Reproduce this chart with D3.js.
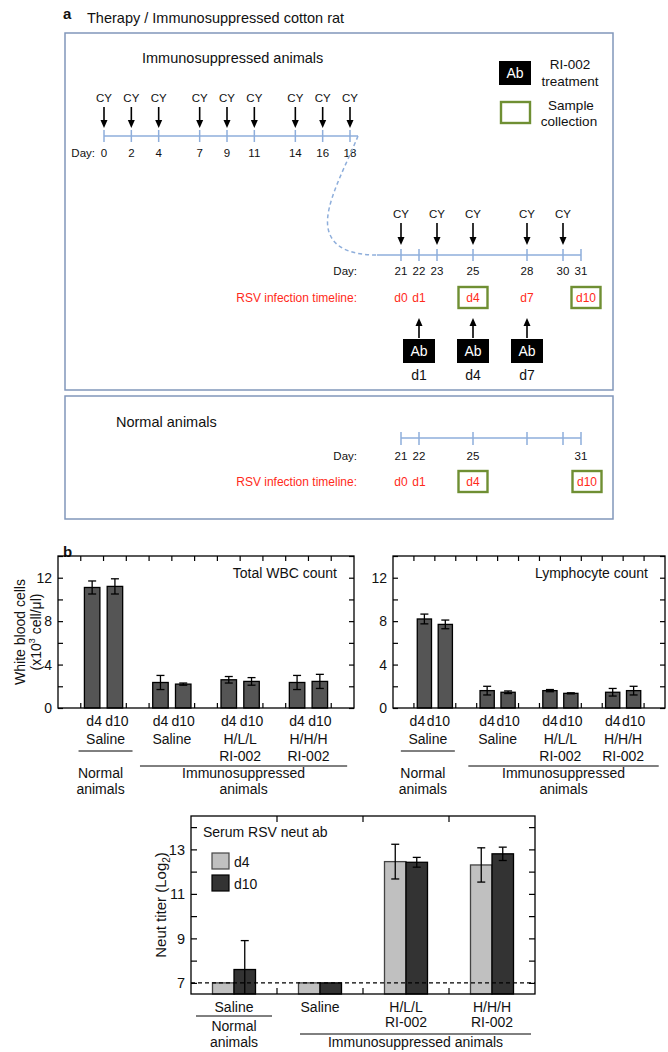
<!DOCTYPE html>
<html><head><meta charset="utf-8">
<script src="https://cdn.jsdelivr.net/npm/d3@7"></script>
<style>body{margin:0;background:#fff} svg{display:block} text{font-family:"Liberation Sans",Arial,sans-serif;fill:#111}</style>
</head><body><svg id="c" width="668" height="1052"></svg>
<script>
// ---------- data ----------
const cyDaysPre = [0, 2, 4, 7, 9, 11, 14, 16, 18];
const cyDaysPost = [21, 23, 25, 28, 30];
const postTickDays = [21, 22, 23, 25, 28, 30, 31];
const rsvDays = [21, 22, 25, 28, 31];
const rsvLabels = ["d0", "d1", "d4", "d7", "d10"];
const sampleDays = [25, 31];
const abDays = [22, 25, 28];
const abLabels = ["d1", "d4", "d7"];
const normalTickDays = [21, 22, 25, 28, 30, 31];
const normalDayLabels = [21, 22, 25, 31];
const normalRsvDays = [21, 22, 25, 31];
const normalRsvLabels = ["d0", "d1", "d4", "d10"];

const groups = ["Normal Saline", "Immuno Saline", "H/L/L RI-002", "H/H/H RI-002"];
const groupLines = [["Saline"], ["Saline"], ["H/L/L", "RI-002"], ["H/H/H", "RI-002"]];
const days = ["d4", "d10"];
const countTicks = [0, 2, 4, 6, 8, 10, 12, 14];
const countLabels = [0, 4, 8, 12];
const wbcMean = [[11.1, 11.2], [2.35, 2.2], [2.6, 2.45], [2.35, 2.45]];
const wbcErr = [[0.6, 0.7], [0.65, 0.1], [0.3, 0.35], [0.65, 0.65]];
const lymMean = [[8.2, 7.7], [1.6, 1.45], [1.6, 1.35], [1.45, 1.6]];
const lymErr = [[0.45, 0.4], [0.4, 0.12], [0.1, 0.05], [0.35, 0.4]];
const neutTicks = [7, 8, 9, 10, 11, 12, 13, 14];
const neutLabels = [7, 9, 11, 13];
const neutMean = [[7.0, 7.6], [7.0, 7.0], [12.45, 12.42], [12.3, 12.8]];
const neutErr = [[0, 1.3], [0, 0], [0.78, 0.22], [0.77, 0.3]];
const neutLimit = 7;

// ---------- helpers ----------
const svg = d3.select("#c");
svg.append("rect").attr("width", 668).attr("height", 1052).attr("fill", "#fff");
const BOX = "#8197ba", TL = "#8eaedb", GREEN = "#6f8f33", RED = "#ff2a1a";

function txt(x, y, s, size, anchor, opts = {}) {
  const t = svg.append("text").attr("x", x).attr("y", y).text(s)
    .style("font-size", size + "px").attr("text-anchor", anchor || "start");
  if (opts.bold) t.style("font-weight", "bold");
  if (opts.fill) t.style("fill", opts.fill);
  return t;
}
function arrowDown(x, y0, y1) {
  svg.append("line").attr("x1", x).attr("x2", x).attr("y1", y0).attr("y2", y1 - 6)
    .attr("stroke", "#000").attr("stroke-width", 1.6);
  svg.append("path").attr("d", `M${x - 3.5},${y1 - 8}L${x + 3.5},${y1 - 8}L${x},${y1}Z`).attr("fill", "#000");
}
function arrowUp(x, y0, y1) { // y0 bottom, y1 tip
  svg.append("line").attr("x1", x).attr("x2", x).attr("y1", y0).attr("y2", y1 + 6)
    .attr("stroke", "#000").attr("stroke-width", 1.6);
  svg.append("path").attr("d", `M${x - 3.5},${y1 + 8}L${x + 3.5},${y1 + 8}L${x},${y1}Z`).attr("fill", "#000");
}
function abBox(cx, cy) {
  svg.append("rect").attr("x", cx - 16).attr("y", cy - 12).attr("width", 32).attr("height", 24).attr("fill", "#000");
  txt(cx, cy + 5, "Ab", 14, "middle", { fill: "#fff" });
}
function sampleBox(cx, baseline) {
  svg.append("rect").attr("x", cx - 14.5).attr("y", baseline - 15).attr("width", 29).attr("height", 21)
    .attr("fill", "none").attr("stroke", GREEN).attr("stroke-width", 2.4);
}

// ---------- panel a ----------
txt(63, 19, "a", 15, "start", { bold: true });
txt(87, 23, "Therapy / Immunosuppressed cotton rat", 14.5);
svg.append("rect").attr("x", 65).attr("y", 33).attr("width", 548).attr("height", 357)
  .attr("fill", "none").attr("stroke", BOX).attr("stroke-width", 1.5);
svg.append("rect").attr("x", 65).attr("y", 396).attr("width", 548).attr("height", 123)
  .attr("fill", "none").attr("stroke", BOX).attr("stroke-width", 1.5);
txt(142, 63, "Immunosuppressed animals", 14.5);

// legend
abBox(515, 73);
txt(570, 69, "RI-002", 13.5, "middle");
txt(570, 86, "treatment", 13.5, "middle");
svg.append("rect").attr("x", 501).attr("y", 102).attr("width", 29).attr("height", 21)
  .attr("fill", "none").attr("stroke", GREEN).attr("stroke-width", 2.4);
txt(571, 110, "Sample", 13.5, "middle");
txt(569, 126, "collection", 13.5, "middle");

// pre-infection timeline
const xPre = d3.scaleLinear().domain([0, 18]).range([104, 350]);
const yPre = 136;
svg.append("line").attr("x1", xPre(0)).attr("x2", xPre(18) + 8).attr("y1", yPre).attr("y2", yPre)
  .attr("stroke", TL).attr("stroke-width", 1.5);
cyDaysPre.forEach(d => {
  svg.append("line").attr("x1", xPre(d)).attr("x2", xPre(d)).attr("y1", yPre - 6).attr("y2", yPre + 6)
    .attr("stroke", TL).attr("stroke-width", 1.5);
  txt(xPre(d), 157, d, 11.5, "middle");
  txt(xPre(d), 102, "CY", 11.5, "middle");
  arrowDown(xPre(d), 107, 128);
});
txt(95, 157, "Day:", 11.5, "end");

// dashed connector
const xPost = d3.scaleLinear().domain([21, 31]).range([401, 581]);
const yPost = 255;
const conn = d3.path();
conn.moveTo(xPre(18) + 8, yPre);
conn.bezierCurveTo(345, 168, 324, 205, 328, 228);
conn.bezierCurveTo(332, 250, 355, yPost, 377, yPost);
svg.append("path").attr("d", conn.toString()).attr("fill", "none").attr("stroke", TL)
  .attr("stroke-width", 1.5).attr("stroke-dasharray", "4,3");

// post timeline
svg.append("line").attr("x1", 377).attr("x2", xPost(31)).attr("y1", yPost).attr("y2", yPost)
  .attr("stroke", TL).attr("stroke-width", 1.5);
postTickDays.forEach(d => {
  svg.append("line").attr("x1", xPost(d)).attr("x2", xPost(d)).attr("y1", yPost - 6).attr("y2", yPost + 6)
    .attr("stroke", TL).attr("stroke-width", 1.5);
  txt(xPost(d), 275, d, 11.5, "middle");
});
txt(357, 275, "Day:", 11.5, "end");
cyDaysPost.forEach(d => {
  txt(xPost(d), 218, "CY", 11.5, "middle");
  arrowDown(xPost(d), 223, 245);
});
txt(357, 302, "RSV infection timeline:", 12, "end", { fill: RED });
rsvDays.forEach((d, i) => {
  const off = rsvLabels[i] === "d10" ? 5 : 0;
  txt(xPost(d) + off, 302, rsvLabels[i], 12, "middle", { fill: RED });
  if (sampleDays.includes(d)) sampleBox(xPost(d) + off, 302);
});
abDays.forEach((d, i) => {
  arrowUp(xPost(d), 338, 318);
  abBox(xPost(d), 351);
  txt(xPost(d), 380, abLabels[i], 14, "middle");
});

// normal animals panel
txt(116, 427, "Normal animals", 14.5);
const yNorm = 438;
svg.append("line").attr("x1", xPost(21)).attr("x2", xPost(31)).attr("y1", yNorm).attr("y2", yNorm)
  .attr("stroke", TL).attr("stroke-width", 1.5);
normalTickDays.forEach(d => {
  svg.append("line").attr("x1", xPost(d)).attr("x2", xPost(d)).attr("y1", yNorm - 6).attr("y2", yNorm + 7)
    .attr("stroke", TL).attr("stroke-width", 1.5);
});
normalDayLabels.forEach(d => txt(xPost(d), 460, d, 11.5, "middle"));
txt(357, 460, "Day:", 11.5, "end");
txt(357, 486, "RSV infection timeline:", 12, "end", { fill: RED });
normalRsvDays.forEach((d, i) => {
  const off = normalRsvLabels[i] === "d10" ? 6 : 0;
  txt(xPost(d) + off, 486, normalRsvLabels[i], 12, "middle", { fill: RED });
  if (sampleDays.includes(d)) sampleBox(xPost(d) + off, 486);
});

// ---------- panel b ----------
txt(63, 557, "b", 15, "start", { bold: true });

function errBar(cx, y, v, e, capW, yMin) {
  if (!e) return;
  const top = y(v + e), bot = Math.min(y(Math.max(v - e, yMin)), y(yMin));
  svg.append("line").attr("x1", cx).attr("x2", cx).attr("y1", top).attr("y2", bot).attr("stroke", "#000").attr("stroke-width", 1.3);
  svg.append("line").attr("x1", cx - capW / 2).attr("x2", cx + capW / 2).attr("y1", top).attr("y2", top).attr("stroke", "#000").attr("stroke-width", 1.3);
  if (v - e > yMin)
    svg.append("line").attr("x1", cx - capW / 2).attr("x2", cx + capW / 2).attr("y1", bot).attr("y2", bot).attr("stroke", "#000").attr("stroke-width", 1.3);
}

function countChart(x0, x1, title, mean, err, normShift) {
  const yTop = 556, yBot = 708;
  const y = d3.scaleLinear().domain([0, 14]).range([yBot, yTop]);
  const gx = d3.scaleBand().domain(groups).range([x0, x1]).paddingInner(1 / 3).paddingOuter(1 / 3);
  const bx = d3.scaleBand().domain(days).range([0, gx.bandwidth()]).paddingInner(0.32).paddingOuter(0.16);
  const slot = gx.step() / 3;
  groups.forEach((gr, i) => {
    days.forEach((d, j) => {
      const v = mean[i][j];
      svg.append("rect").attr("x", gx(gr) + bx(d)).attr("y", y(v)).attr("width", bx.bandwidth())
        .attr("height", y(0) - y(v)).attr("fill", "#555").attr("stroke", "#000").attr("stroke-width", 1.3);
    });
  });
  groups.forEach((gr, i) => {
    const sh = i === 0 ? normShift : 0;
    days.forEach((d, j) => {
      const cx = gx(gr) + bx(d) + bx.bandwidth() / 2;
      errBar(cx, y, mean[i][j], err[i][j], 8, 0);
      txt(cx + sh, 726, d, 14, "middle");
    });
    groupLines[i].forEach((l, k) => txt(gx(gr) + gx.bandwidth() / 2 + sh, 744 + k * 17, l, 14, "middle"));
  });
  // top/bottom ticks
  groups.forEach(gr => {
    [gx(gr), gx(gr) + gx.bandwidth() / 2, gx(gr) + gx.bandwidth()].forEach((tx, k) => {
      svg.append("line").attr("x1", tx).attr("x2", tx).attr("y1", yTop).attr("y2", yTop + 5).attr("stroke", "#000").attr("stroke-width", 1.2);
      if (k !== 1)
        svg.append("line").attr("x1", tx).attr("x2", tx).attr("y1", yBot).attr("y2", yBot - 5).attr("stroke", "#000").attr("stroke-width", 1.2);
    });
  });
  const la = svg.append("g").attr("transform", `translate(${x0},0)`)
    .call(d3.axisLeft(y).tickValues(countTicks).tickSize(-5).tickPadding(6)
      .tickFormat(d => countLabels.includes(d) ? d : ""));
  const ra = svg.append("g").attr("transform", `translate(${x1},0)`)
    .call(d3.axisRight(y).tickValues(countTicks).tickSize(-5).tickFormat(""));
  [la, ra].forEach(a => {
    a.select(".domain").remove();
    a.selectAll("line").attr("stroke", "#000").attr("stroke-width", 1.2);
    a.selectAll("text").style("font-size", "14px").style("font-family", '"Liberation Sans",Arial,sans-serif').attr("fill", "#111");
  });
  svg.append("rect").attr("x", x0).attr("y", yTop).attr("width", x1 - x0).attr("height", yBot - yTop)
    .attr("fill", "none").attr("stroke", "#000").attr("stroke-width", 1.3);
  txt(x1 - 17, 578, title, 14, "end");
  // group underlines
  const g0c = gx(groups[0]) + gx.bandwidth() / 2 + normShift;
  svg.append("line").attr("x1", g0c - 27).attr("x2", g0c + 27).attr("y1", 751).attr("y2", 751).attr("stroke", "#000").attr("stroke-width", 1);
  txt(g0c - 5, 778, "Normal", 14, "middle");
  txt(g0c - 5, 794, "animals", 14, "middle");
  const i0 = gx(groups[1]) - slot * 0.4, i1 = gx(groups[3]) + gx.bandwidth() + slot * 0.7;
  svg.append("line").attr("x1", i0).attr("x2", i1).attr("y1", 766).attr("y2", 766).attr("stroke", "#000").attr("stroke-width", 1);
  txt((i0 + i1) / 2, 778, "Immunosuppressed", 14, "middle");
  txt((i0 + i1) / 2, 794, "animals", 14, "middle");
}
countChart(58, 354, "Total WBC count", wbcMean, wbcErr, 2);
countChart(393, 665, "Lymphocyte count", lymMean, lymErr, -7);

// y label for count charts
const yl = svg.append("text").attr("transform", "translate(25,632) rotate(-90)").attr("text-anchor", "middle").style("font-size", "14px");
yl.append("tspan").attr("x", 0).attr("dy", 0).text("White blood cells");
const yl2 = svg.append("text").attr("transform", "translate(41,632) rotate(-90)").attr("text-anchor", "middle").style("font-size", "14px");
yl2.append("tspan").text("(x10");
yl2.append("tspan").text("3").style("font-size", "9px").attr("dy", -6);
yl2.append("tspan").text(" cell/μl)").attr("dy", 6);

// ---------- neut chart ----------
(function () {
  const x0 = 191, x1 = 535, yTop = 816, yBot = 994;
  const y = d3.scaleLinear().domain([6.5, 14.5]).range([yBot, yTop]);
  const gx = d3.scaleBand().domain(groups).range([x0, x1]);
  const bx = d3.scaleBand().domain(days).range([0, gx.bandwidth()]).paddingOuter(1);
  const fills = { d4: "#c0c0c0", d10: "#333" };
  groups.forEach((gr, i) => {
    days.forEach((d, j) => {
      const v = neutMean[i][j];
      svg.append("rect").attr("x", gx(gr) + bx(d)).attr("y", y(v)).attr("width", bx.bandwidth())
        .attr("height", y(6.5) - y(v)).attr("fill", fills[d]).attr("stroke", d === "d4" ? "#444" : "#000").attr("stroke-width", 1.3);
    });
  });
  svg.append("line").attr("x1", x0).attr("x2", x1).attr("y1", y(neutLimit)).attr("y2", y(neutLimit))
    .attr("stroke", "#000").attr("stroke-width", 1.1).attr("stroke-dasharray", "4,3");
  groups.forEach((gr, i) => {
    days.forEach((d, j) => errBar(gx(gr) + bx(d) + bx.bandwidth() / 2, y, neutMean[i][j], neutErr[i][j], 8, 6.5));
    groupLines[i].forEach((l, k) => txt(gx(gr) + gx.bandwidth() / 2, 1012 + k * 15, l, 14, "middle"));
    if (i > 0) {
      const tx = gx(gr);
      svg.append("line").attr("x1", tx).attr("x2", tx).attr("y1", yTop).attr("y2", yTop + 6).attr("stroke", "#000").attr("stroke-width", 1.2);
      svg.append("line").attr("x1", tx).attr("x2", tx).attr("y1", yBot).attr("y2", yBot - 6).attr("stroke", "#000").attr("stroke-width", 1.2);
    }
  });
  const la = svg.append("g").attr("transform", `translate(${x0},0)`)
    .call(d3.axisLeft(y).tickValues(neutTicks).tickSize(-6).tickPadding(6)
      .tickFormat(d => neutLabels.includes(d) ? d : ""));
  const ra = svg.append("g").attr("transform", `translate(${x1},0)`)
    .call(d3.axisRight(y).tickValues(neutTicks).tickSize(-6).tickFormat(""));
  [la, ra].forEach(a => {
    a.select(".domain").remove();
    a.selectAll("line").attr("stroke", "#000").attr("stroke-width", 1.2);
    a.selectAll("text").style("font-size", "14.5px").style("font-family", '"Liberation Sans",Arial,sans-serif').attr("fill", "#111");
  });
  svg.append("rect").attr("x", x0).attr("y", yTop).attr("width", x1 - x0).attr("height", yBot - yTop)
    .attr("fill", "none").attr("stroke", "#000").attr("stroke-width", 1.3);
  txt(203, 837, "Serum RSV neut ab", 14);
  days.forEach((d, j) => {
    svg.append("rect").attr("x", 212).attr("y", 853 + j * 22).attr("width", 17).attr("height", 16)
      .attr("fill", fills[d]).attr("stroke", d === "d4" ? "#444" : "#000").attr("stroke-width", 1.2);
    txt(234, 867 + j * 22, d, 14);
  });
  const c0 = gx(groups[0]) + gx.bandwidth() / 2;
  svg.append("line").attr("x1", c0 - 38).attr("x2", c0 + 38).attr("y1", 1016).attr("y2", 1016).attr("stroke", "#000").attr("stroke-width", 1);
  txt(c0, 1031, "Normal", 14, "middle");
  txt(c0, 1047, "animals", 14, "middle");
  const i0 = gx(groups[1]) + 23, i1 = x1 - 4;
  svg.append("line").attr("x1", i0).attr("x2", i1).attr("y1", 1034).attr("y2", 1034).attr("stroke", "#000").attr("stroke-width", 1);
  txt((i0 + i1) / 2, 1047, "Immunosuppressed animals", 14, "middle");
  const nl = svg.append("text").attr("transform", "translate(166,905) rotate(-90)").attr("text-anchor", "middle").style("font-size", "15px");
  nl.append("tspan").text("Neut titer (Log");
  nl.append("tspan").text("2").style("font-size", "10px").attr("dy", 4);
  nl.append("tspan").text(")").attr("dy", -4);
})();
</script></body></html>
